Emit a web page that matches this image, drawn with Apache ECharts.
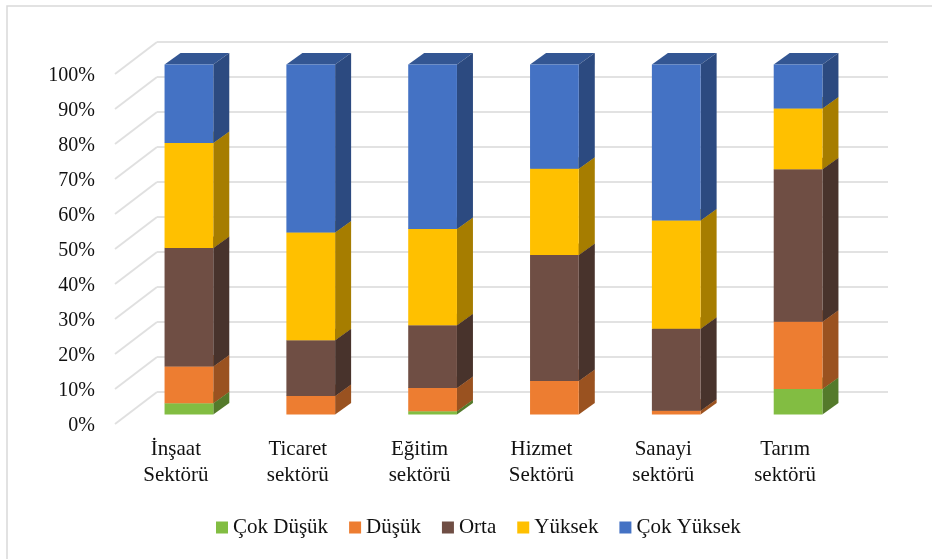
<!DOCTYPE html>
<html><head><meta charset="utf-8">
<style>html,body{margin:0;padding:0;background:#fff}#c{width:932px;height:559px;filter:blur(0.5px)}</style>
<script src="https://cdn.jsdelivr.net/npm/echarts@6/dist/echarts.min.js"></script>
</head><body><div id="c"></div>
<script>
const categories = ['İnşaat\nSektörü','Ticaret\nsektörü','Eğitim\nsektörü','Hizmet\nSektörü','Sanayi\nsektörü','Tarım\nsektörü'];
const cokDusuk  = [3.2, 0, 0.9, 0, 0, 7.3];
const dusuk     = [10.5, 5.3, 6.7, 9.6, 1.1, 19.2];
const orta      = [33.9, 15.9, 17.9, 36.0, 23.4, 43.6];
const yuksek    = [30.0, 30.8, 27.5, 24.6, 30.9, 17.3];
const cokYuksek = [22.4, 48.0, 47.0, 29.8, 44.6, 12.6];
const ticks = [0,10,20,30,40,50,60,70,80,90,100];

const FONT = '"Liberation Serif","Times New Roman",serif';
const stackDefs = [
  {name:'Çok Düşük',  vals:cokDusuk,  front:'#82BD42', side:'#547A2B', top:'#5F8C32'},
  {name:'Düşük',      vals:dusuk,     front:'#ED7D31', side:'#9A5220', top:'#B05E25'},
  {name:'Orta',       vals:orta,      front:'#6F4E44', side:'#48332C', top:'#533A33'},
  {name:'Yüksek',     vals:yuksek,    front:'#FFC000', side:'#A67D00', top:'#BF9000'},
  {name:'Çok Yüksek', vals:cokYuksek, front:'#4472C4', side:'#2C4A80', top:'#335693'}
];
const SHIFT_X=-29, SHIFT_Y=22.5, DX=16, DY=-11.5, BAR=0.4;
const running = categories.map(()=>0);
const series = stackDefs.map(d=>{
  const data = d.vals.map((v,i)=>{const s=running[i]; running[i]+=v; return [i,s,running[i]];});
  return {
    name:d.name, type:'custom', xAxisIndex:0, yAxisIndex:0, clip:false, silent:true, z:5,
    itemStyle:{color:d.front}, data, encode:{x:0,y:[1,2]},
    renderItem(params,api){
      const lo=api.value(1), hi=api.value(2);
      if(hi-lo<=0) return null;
      const a=api.coord([api.value(0),lo]), b=api.coord([api.value(0),hi]);
      const w=api.size([1,0])[0]*BAR;
      const x0=a[0]+SHIFT_X-w/2, x1=x0+w, y0=a[1]+SHIFT_Y, y1=b[1]+SHIFT_Y;
      return {type:'group',children:[
        {type:'polygon',shape:{points:[[x0,y1],[x1,y1],[x1+DX,y1+DY],[x0+DX,y1+DY]]},style:{fill:d.top}},
        {type:'polygon',shape:{points:[[x1,y0],[x1+DX,y0+DY],[x1+DX,y1+DY],[x1,y1]]},style:{fill:d.side}},
        {type:'rect',shape:{x:x0,y:y1,width:w,height:y0-y1},style:{fill:d.front}}
      ]};
    }
  };
});
series.unshift({
  type:'custom', xAxisIndex:0, yAxisIndex:0, clip:false, silent:true, z:1,
  data:ticks.map(t=>[0,t]), encode:{x:0,y:1},
  renderItem(params,api){
    const p=api.coord([0,api.value(1)]);
    const x=p[0]-api.size([1,0])[0]/2;
    return {type:'line',shape:{x1:x,y1:p[1],x2:x-42,y2:p[1]+32},style:{stroke:'#e0e0e0',lineWidth:2}};
  }
});
const chart = echarts.init(document.getElementById('c'),null,{renderer:'canvas'});
chart.setOption({
  animation:false, backgroundColor:'#fff',
  graphic:[{type:'polyline',silent:true,shape:{points:[[7,559],[7,6],[932,6]]},style:{stroke:'#d9d9d9',fill:null,lineWidth:1.5}}],
  grid:[
    {left:157,right:44,top:42,bottom:167},
    {left:115,right:86,top:76,bottom:133}
  ],
  xAxis:[
    {type:'category',gridIndex:0,data:categories,axisLine:{show:false},axisTick:{show:false},axisLabel:{show:false}},
    {type:'category',gridIndex:1,data:categories,axisLine:{show:false},axisTick:{show:false},
     axisLabel:{interval:0,color:'#111',fontFamily:FONT,fontSize:21,lineHeight:26,margin:10}}
  ],
  yAxis:[
    {type:'value',gridIndex:0,min:0,max:100,interval:10,axisLine:{show:false},axisTick:{show:false},axisLabel:{show:false},
     splitLine:{show:true,lineStyle:{color:'#e2e2e2',width:2}}},
    {type:'value',gridIndex:1,min:0,max:100,interval:10,axisLine:{show:false},axisTick:{show:false},splitLine:{show:false},
     axisLabel:{formatter:'{value}%',color:'#111',fontFamily:FONT,fontSize:20,margin:20}}
  ],
  legend:{left:211,top:512,icon:'rect',itemWidth:12,itemHeight:12,itemGap:21,
    data:stackDefs.map(d=>d.name),selectedMode:false,
    textStyle:{color:'#111',fontFamily:FONT,fontSize:21}},
  series
});
</script></body></html>
